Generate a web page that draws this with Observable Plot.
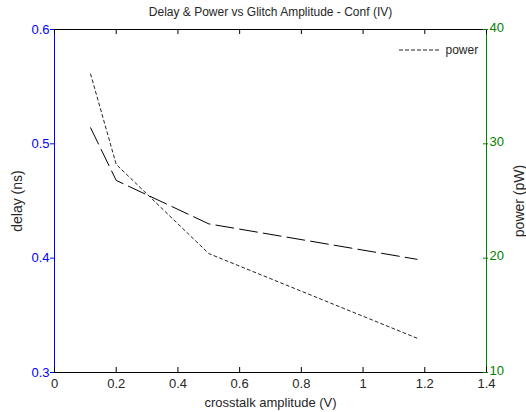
<!DOCTYPE html>
<html>
<head>
<meta charset="utf-8">
<script src="https://cdn.jsdelivr.net/npm/d3@7"></script>
<script src="https://cdn.jsdelivr.net/npm/@observablehq/plot@0.6"></script>
<style>
  html, body { margin: 0; padding: 0; background: #fff; }
</style>
</head>
<body>
<div id="chart"></div>
<script>
// ---- data ----
const xValues = [0.117, 0.2, 0.5, 1.175];          // crosstalk amplitude (V)
const delayValues = [0.514, 0.468, 0.430, 0.399];  // delay (ns), left axis
const powerValues = [36.1, 28.2, 20.4, 13.0];      // power (pW), right axis
const xTicks = [0, 0.2, 0.4, 0.6, 0.8, 1, 1.2, 1.4];
const delayTicks = [0.3, 0.4, 0.5, 0.6];
const powerTicks = [10, 20, 30, 40];
const titleText = "Delay & Power vs Glitch Amplitude - Conf (IV)";
const xLabel = "crosstalk amplitude (V)";
const yLabelLeft = "delay (ns)";
const yLabelRight = "power (pW)";
const legendLabel = "power";

// ---- layout ----
const W = 526, H = 412, mL = 54, mR = 40, mT = 29, mB = 40;
const plotW = W - mL - mR, plotH = H - mT - mB;
const delayDomain = [0.3, 0.6], powerDomain = [10, 40];
const toDelay = p => delayDomain[0] + (p - powerDomain[0]) / (powerDomain[1] - powerDomain[0]) * (delayDomain[1] - delayDomain[0]);

const data = xValues.map((x, i) => ({x, delay: delayValues[i], power: powerValues[i]}));
const font = "Liberation Sans, Arial, Helvetica, sans-serif";
const textCol = "#262626";
const fs = 12;

const chart = Plot.plot({
  width: W, height: H,
  marginLeft: mL, marginRight: mR, marginTop: mT, marginBottom: mB,
  style: {fontFamily: font, fontSize: fs + "px", background: "white", overflow: "visible"},
  x: {domain: [0, 1.4], axis: null},
  y: {domain: delayDomain, axis: null},
  marks: [
    // series
    Plot.line(data, {x: "x", y: "delay", stroke: "black", strokeWidth: 1, strokeDasharray: "18,6"}),
    Plot.line(data, {x: "x", y: d => toDelay(d.power), stroke: "#222", strokeWidth: 1, strokeDasharray: "3,3"}),
    // frame
    Plot.ruleY([delayDomain[1]], {stroke: "black"}),
    Plot.ruleY([delayDomain[0]], {stroke: "black"}),
    Plot.ruleX([0], {stroke: "#0000ff"}),
    Plot.ruleX([1.4], {stroke: "#008000"}),
    // x ticks (inward top and bottom)
    Plot.tickX(xTicks, {x: d => d, insetTop: plotH - 5, stroke: "black"}),
    Plot.tickX(xTicks, {x: d => d, insetBottom: plotH - 5, stroke: "black"}),
    // left ticks (outward), right ticks
    Plot.tickY(delayTicks, {y: d => d, insetRight: plotW - 4, dx: -4, stroke: "#0000ff"}),
    Plot.tickY(powerTicks, {y: d => toDelay(d), insetLeft: plotW - 5, dx: 2, stroke: "#008000"}),
    // tick labels
    Plot.text(xTicks, {x: d => d, frameAnchor: "bottom", textAnchor: "middle", lineAnchor: "top", dy: 6, text: d => String(d), fill: textCol, fontSize: 13}),
    Plot.text(delayTicks, {y: d => d, frameAnchor: "left", textAnchor: "end", dx: -5, text: d => d.toFixed(1), fill: "#0000ff", fontSize: 13}),
    Plot.text(powerTicks, {y: d => toDelay(d), frameAnchor: "right", textAnchor: "start", dx: 3, dy: -2, text: d => String(d), fill: "#008000", fontSize: 13}),
    // axis labels and title
    Plot.text([xLabel], {frameAnchor: "bottom", textAnchor: "middle", lineAnchor: "middle", dy: 30, text: d => d, fill: textCol, fontSize: 13}),
    Plot.text([yLabelLeft], {frameAnchor: "left", textAnchor: "middle", rotate: -90, dx: -37, text: d => d, fill: textCol, fontSize: 14}),
    Plot.text([yLabelRight], {frameAnchor: "right", textAnchor: "middle", rotate: -90, dx: 33, text: d => d, fill: textCol, fontSize: 14}),
    Plot.text([titleText], {frameAnchor: "top", textAnchor: "middle", lineAnchor: "middle", dy: -17, text: d => d, fill: textCol, fontSize: fs}),
    // legend label
    Plot.text([legendLabel], {frameAnchor: "top-right", textAnchor: "start", lineAnchor: "middle", dx: -41, dy: 21, text: d => d, fill: textCol, fontSize: fs})
  ]
});
document.getElementById("chart").appendChild(chart);

// legend swatch (dotted line) next to the "power" label
d3.select(chart).append("line")
  .attr("x1", W - mR - 87).attr("x2", W - mR - 47)
  .attr("y1", mT + 21).attr("y2", mT + 21)
  .attr("stroke", "#222").attr("stroke-width", 1).attr("stroke-dasharray", "4,2");
</script>
</body>
</html>
